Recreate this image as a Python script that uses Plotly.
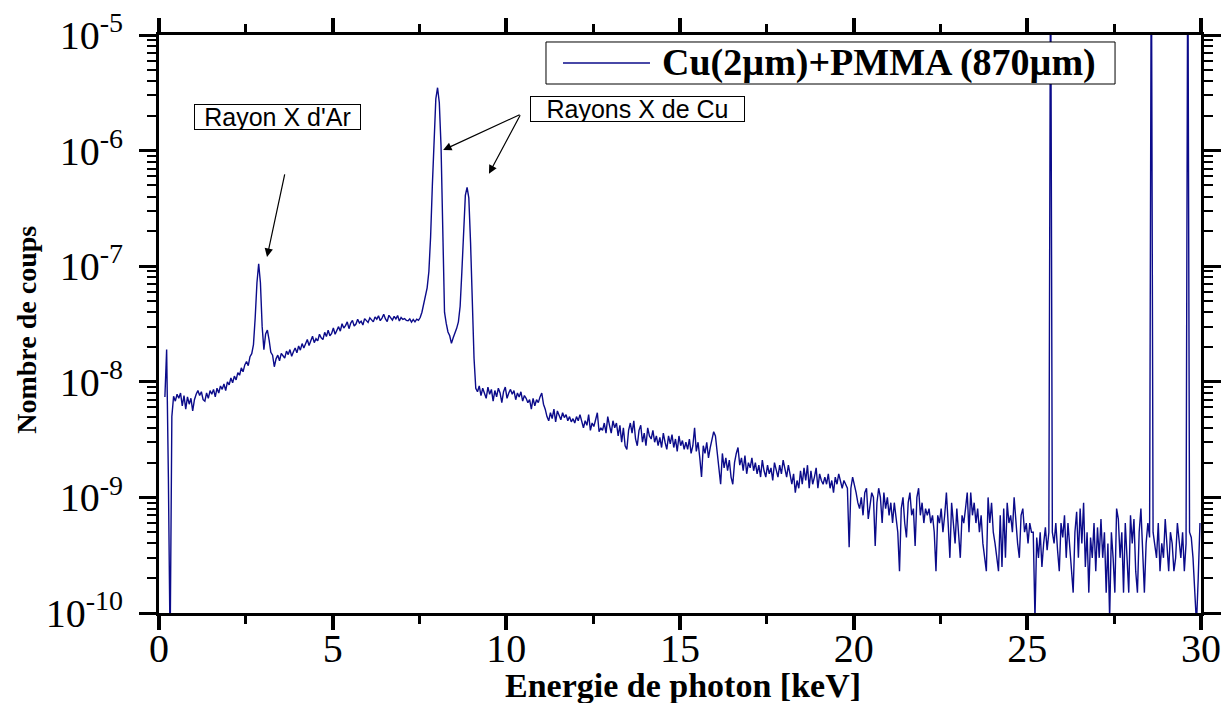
import plotly.graph_objects as go

NAVY = "#0b0b8a"
SERIF = "Liberation Serif"
SANS = "Liberation Sans"

# spectrum channels: first channel energy and channel width (keV)
E0, DE = 0.17, 0.05

# counts in units of 1e-10, one row per keV (row r starts at E0 + r)
counts_e10 = [
    [74, 190, 15, 0.5, 50, 75, 68, 78, 72, 80, 62, 76, 58, 74, 64, 72, 56, 70, 78, 84],
    [76, 82, 70, 68, 80, 72, 84, 78, 86, 74, 88, 80, 92, 86, 96, 84, 100, 94, 108, 98],
    [112, 104, 120, 114, 132, 122, 140, 150, 138, 165, 175, 210, 360, 720, 1050, 720, 300, 190, 260, 280],
    [230, 180, 170, 135, 158, 170, 152, 176, 168, 160, 184, 172, 190, 166, 182, 196, 178, 204, 188, 214],
    [196, 210, 232, 206, 224, 248, 218, 236, 226, 258, 240, 232, 268, 246, 280, 250, 262, 292, 258, 276],
    [300, 274, 318, 292, 306, 330, 288, 322, 340, 304, 316, 348, 322, 334, 310, 352, 336, 326, 358, 340],
    [330, 364, 348, 372, 338, 356, 384, 350, 332, 376, 358, 342, 368, 350, 374, 336, 360, 346, 352, 340],
    [338, 350, 328, 346, 330, 348, 340, 360, 400, 470, 530, 650, 900, 1800, 5000, 13000, 28000, 35000, 26000, 11000],
    [1500, 400, 320, 270, 250, 215, 240, 260, 290, 330, 450, 900, 2300, 4100, 4800, 3900, 1600, 400, 160, 88],
    [82, 92, 76, 88, 80, 72, 90, 78, 86, 68, 84, 74, 88, 80, 66, 82, 90, 72, 80, 86],
    [78, 84, 70, 80, 74, 82, 68, 76, 72, 66, 70, 58, 72, 62, 70, 66, 74, 80, 64, 58],
    [50, 46, 54, 48, 58, 45, 56, 50, 47, 54, 49, 52, 46, 50, 45, 48, 44, 50, 46, 52],
    [44, 40, 46, 42, 52, 38, 44, 41, 47, 54, 37, 40, 38, 44, 36, 50, 42, 36, 46, 40],
    [44, 34, 42, 30, 40, 28, 26, 38, 44, 36, 46, 32, 28, 38, 42, 30, 36, 28, 40, 34],
    [32, 38, 30, 34, 28, 33, 27, 36, 30, 26, 34, 29, 35, 27, 32, 25, 34, 28, 31, 26],
    [30, 26, 32, 24, 28, 40, 25, 30, 22, 15, 28, 24, 30, 22, 27, 31, 37, 34, 24, 18],
    [13, 24, 18, 22, 17, 21, 15, 13, 20, 24, 27, 19, 22, 17, 23, 16, 20, 18, 22, 17],
    [20, 16, 19, 15, 21, 17, 15, 19, 16, 18, 14, 20, 17, 15, 19, 16, 21, 17, 15, 19],
    [15, 13, 16, 11, 14, 12, 17, 13, 18, 14, 19, 12, 17, 13, 15, 18, 12, 16, 14, 13],
    [15, 13, 16, 12, 14, 11, 15, 13, 16, 14, 12, 14, 13, 12, 3.7, 12, 15, 13, 11, 9],
    [8, 10, 7, 11, 12, 6.5, 9, 11, 10, 3.8, 9, 12, 10, 6, 11, 8, 10, 7, 9, 6],
    [9, 7, 5, 2.3, 8, 10, 6, 4.5, 9, 11, 7, 8, 3.8, 10, 12, 7, 9, 6, 8, 7],
    [8, 6, 7, 5, 2.3, 7, 6, 8, 5, 7, 11, 6, 3, 9, 6, 4, 8, 5, 3, 7],
    [6, 8, 11, 5, 11, 7, 9, 6, 8, 5, 7, 4, 3, 2.3, 10, 6, 9, 5, 4, 3],
    [2.3, 7, 2.5, 8, 3, 9, 6, 7, 5, 10, 6, 4, 3, 7, 8, 5, 6, 4, 6, 5],
    [5, 0.9, 4.5, 3, 5, 2.5, 4, 5.5, 3.5, 5, 1e6, 5, 4, 6, 3.5, 2.3, 6, 4.5, 7, 3],
    [6, 4, 2.3, 1.5, 5, 7.5, 3, 8, 4, 9, 2.5, 5, 1.5, 4.5, 3, 6, 2.3, 5.5, 3, 6.5],
    [3, 5, 1.5, 4, 0.9, 5, 3, 1.5, 8, 6.5, 3, 5, 1.5, 6, 3, 1.5, 7, 4, 6.5, 2.3],
    [1.5, 5, 8, 3, 1.5, 4, 6, 4.5, 1e6, 5, 4, 3, 6, 2.3, 4, 3, 6.5, 4, 2.3, 5],
    [4, 2.3, 3, 6, 4, 3, 5, 2.3, 4, 1e6, 5, 4.5, 3, 1.5, 0.8, 2, 6],
]
counts = [v * 1e-10 for row in counts_e10 for v in row]

series_name = "Cu(2µm)+PMMA (870µm)"
y_tickvals = [1e-10, 1e-9, 1e-8, 1e-7, 1e-6, 1e-5]
y_ticktext = ["10<sup>-10</sup>", "10<sup>-9</sup>", "10<sup>-8</sup>",
              "10<sup>-7</sup>", "10<sup>-6</sup>", "10<sup>-5</sup>"]
y_minor = [m * d for d in y_tickvals[:-1] for m in range(2, 10)]

fig = go.Figure()
fig.add_scatter(x0=E0, dx=DE, y=counts, mode="lines", line=dict(color=NAVY, width=1.4),
                name=series_name, showlegend=False)

axis_common = dict(showline=True, linewidth=3, linecolor="black", mirror="ticks",
                   ticks="outside", tickcolor="black", showgrid=False, zeroline=False,
                   automargin=False, tickfont=dict(family=SERIF, size=40, color="black"))

fig.update_xaxes(range=[0, 30], tick0=0, dtick=5, ticklen=14, tickwidth=4, ticklabelstandoff=-16,
                 minor=dict(dtick=2.5, ticks="outside", ticklen=8, tickwidth=3, tickcolor="black"),
                 **axis_common)
fig.update_yaxes(type="log", range=[-10, -5], tickmode="array", tickvals=y_tickvals,
                 ticktext=y_ticktext, ticklen=17, tickwidth=3, ticklabelstandoff=8,
                 minor=dict(tickvals=y_minor, ticks="outside", ticklen=9, tickwidth=2, tickcolor="black"),
                 **axis_common)

# hand-drawn legend box (long line sample like the original)
fig.add_shape(type="rect", xref="paper", yref="paper", x0=0.3714, x1=0.9175, y0=0.9152, y1=0.9879,
              line=dict(color="black", width=1), fillcolor="white")
fig.add_shape(type="line", xref="paper", yref="paper", x0=0.3877, x1=0.4712, y0=0.9516, y1=0.9516,
              line=dict(color=NAVY, width=1.4))
fig.add_annotation(text="<b>" + series_name + "</b>", xref="paper", yref="paper", x=0.4808, y=0.9516,
                   xanchor="left", yanchor="middle", showarrow=False,
                   font=dict(family=SERIF, size=38, color="black"))

# axis titles
fig.add_annotation(text="<b>Energie de photon [keV]</b>", xref="paper", yref="paper", x=0.503, y=-0.126,
                   xanchor="center", yanchor="middle", showarrow=False,
                   font=dict(family=SERIF, size=34, color="black"))
fig.add_annotation(text="<b>Nombre de coups</b>", xref="paper", yref="paper", x=-0.1267, y=0.49,
                   xanchor="center", yanchor="middle", textangle=-90, showarrow=False,
                   font=dict(family=SERIF, size=28, color="black"))

# peak labels and arrows
box = dict(showarrow=False, bordercolor="black", borderwidth=1, borderpad=0, bgcolor="white",
           height=24, font=dict(family=SANS, size=25, color="black"))
fig.add_annotation(text="Rayon X d'Ar", x=3.41, y=-5.705, width=165, **box)
fig.add_annotation(text="Rayons X de Cu", x=13.78, y=-5.64, width=213, **box)
arrow = dict(text="", showarrow=True, arrowhead=2, arrowsize=1.4, arrowwidth=1.2, arrowcolor="black")
fig.add_annotation(x=3.11, y=-6.92, ax=18, ay=-84, **arrow)
fig.add_annotation(x=8.18, y=-5.995, ax=78, ay=-36, **arrow)
fig.add_annotation(x=9.50, y=-6.20, ax=32, ay=-60, **arrow)

fig.update_layout(width=1230, height=703, margin=dict(l=159, r=29, t=35, b=90),
                  plot_bgcolor="white", paper_bgcolor="white", showlegend=False)

# drop the browser's default page margin so the figure sits at the window corner
fig.write_html("out.html", config={"displayModeBar": False},
               post_script="document.body.style.margin='0';")
